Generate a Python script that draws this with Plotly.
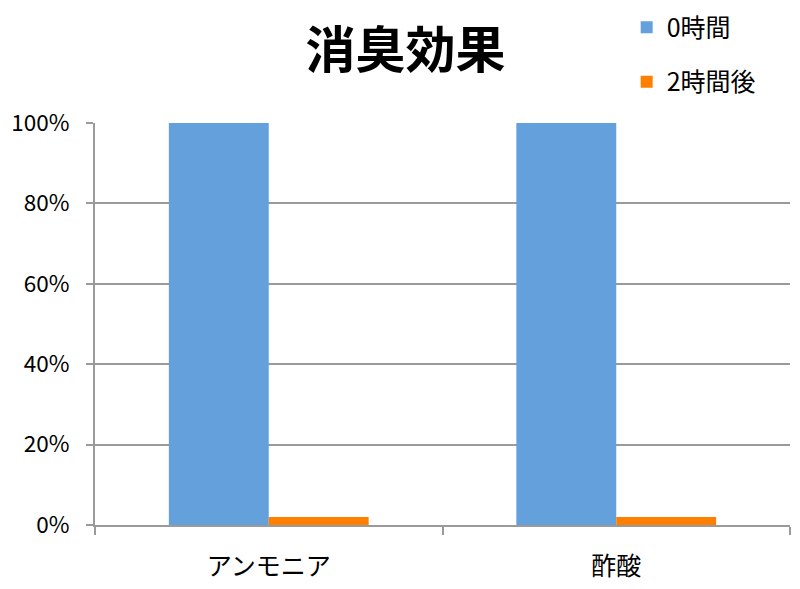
import plotly.graph_objects as go

categories = ["アンモニア", "酢酸"]
series_names = ["0時間", "2時間後"]
values_0h = [1.00, 1.00]
values_2h = [0.02, 0.02]
colors = ["#63A0DC", "#FF7F00"]

FONT = "Noto Sans CJK JP"

fig = go.Figure()
for name, vals, col in zip(series_names, [values_0h, values_2h], colors):
    fig.add_trace(go.Bar(x=categories, y=vals, name=name, marker_color=col,
                         marker_line_width=0, legendgroup=name))

fig.update_layout(
    width=800, height=589,
    margin=dict(l=87, r=18, t=115, b=72, autoexpand=False),
    paper_bgcolor="white", plot_bgcolor="white",
    font=dict(family=FONT, size=22, color="#000000"),
    title=dict(text="<b>消臭効果</b>", x=0.497, xanchor="center", y=0.928, yanchor="middle",
               font=dict(family=FONT, size=50, color="#000000")),
    barmode="group", bargap=0.425, bargroupgap=0,
    showlegend=True,
    legend=dict(x=0.765, xanchor="left", y=1.295, yanchor="top",
                font=dict(family=FONT, size=25), traceorder="grouped",
                tracegroupgap=19, itemwidth=30, bgcolor="rgba(0,0,0,0)"),
    xaxis=dict(showline=True, linecolor="#9a9a9a", linewidth=2, ticks="outside",
               tickson="boundaries", ticklen=8, tickcolor="#9a9a9a", tickwidth=2,
               ticklabelstandoff=18,
               tickfont=dict(family=FONT, size=25), showgrid=False),
    yaxis=dict(range=[0, 1.0], tickvals=[0, 0.2, 0.4, 0.6, 0.8, 1.0],
               ticktext=["0%", "20%", "40%", "60%", "80%", "100%"],
               showline=True, linecolor="#9a9a9a", linewidth=2, ticks="outside",
               ticklen=7, tickcolor="#9a9a9a", tickwidth=2, showgrid=True,
               gridcolor="#9a9a9a", gridwidth=1.5, zeroline=False,
               ticklabelstandoff=12,
               tickfont=dict(family=FONT, size=22.5)),
)
fig.write_html("out.html")
